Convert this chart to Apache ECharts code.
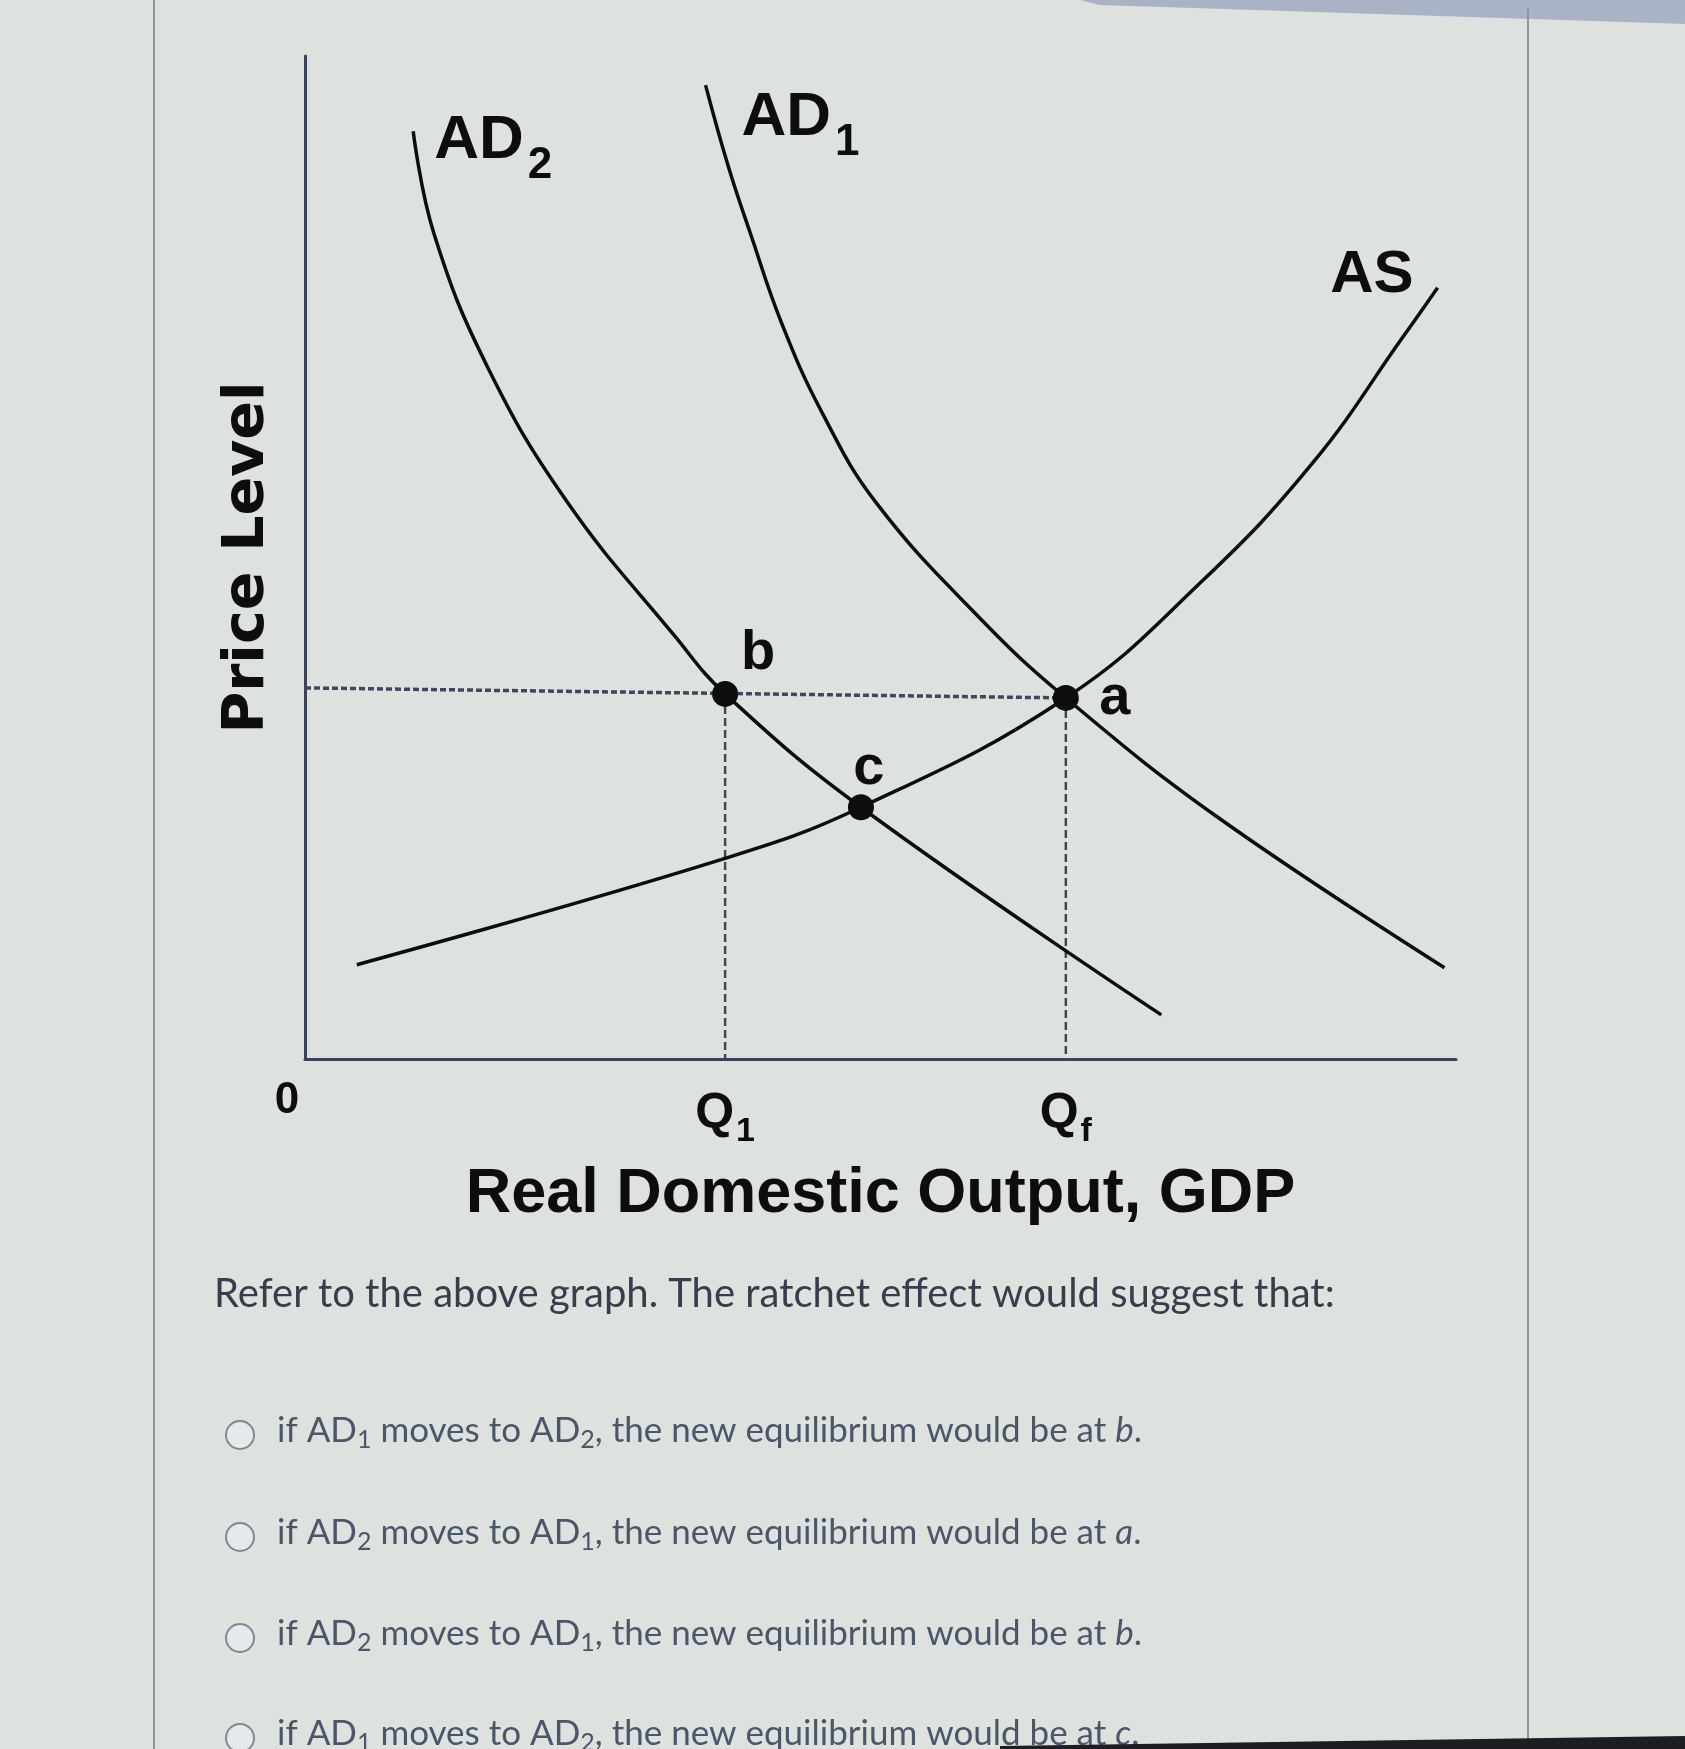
<!DOCTYPE html>
<html><head><meta charset="utf-8">
<script src="https://cdn.jsdelivr.net/npm/echarts@6/dist/echarts.min.js"></script>
<style>html,body{margin:0;padding:0;background:#dee2df;}#c{width:1685px;height:1749px;}</style>
</head><body><div id="c"></div>
<script>
// ---- data (axis units 0..100) ----
const AD2 = [[9.4,92.5],[11.2,82.3],[15.9,68.9],[22.8,55.5],[32.1,42.2],[36.5,36.4],[48.3,25.1],[74.4,4.4]];
const AD1 = [[34.8,97.1],[36.8,88.9],[38.7,82.3],[41.4,73.4],[44.9,64.5],[49.6,55.5],[58.6,44.0],[66.1,36.0],[79.3,24.1],[99.0,9.1]];
const AS  = [[4.5,9.4],[36.5,20.0],[48.3,25.1],[66.1,36.0],[77.9,47.6],[87.6,59.5],[95.4,72.0],[98.4,76.9]];
const pointNames = ['b','a','c'];
const pointValues = [[36.5,36.4],[66.1,36.0],[48.3,25.1]];
const priceGuide = [[0,37.0],[66.1,36.0]];
const q1Guide = [[36.5,36.4],[36.5,0]];
const qfGuide = [[66.1,36.0],[66.1,0]];
const xTickValues = [0, 36.5, 66.1];
const xTickLabels = ['0', 'Q1', 'Qf'];
const xAxisTitle = 'Real Domestic Output, GDP';
const yAxisTitle = 'Price Level';
const question = 'Refer to the above graph. The ratchet effect would suggest that:';
const options = [
  'if AD{s|1} moves to AD{s|2}, the new equilibrium would be at {i|b}.',
  'if AD{s|2} moves to AD{s|1}, the new equilibrium would be at {i|a}.',
  'if AD{s|2} moves to AD{s|1}, the new equilibrium would be at {i|b}.',
  'if AD{s|1} moves to AD{s|2}, the new equilibrium would be at {i|c}.'
];

const chart = echarts.init(document.getElementById('c'), null, {renderer:'canvas'});
const FONT = 'Liberation Sans, Arial, sans-serif';
const NARROW = 'Liberation Sans Narrow, Liberation Sans, Arial, sans-serif';
const INK = '#0d0d0d';
const AXIS = '#39435a';
const GUIDE = '#3c4862';

const curveRich = {
  m:{fontSize:62, fontWeight:'bold', fontFamily:NARROW, color:INK},
  n:{fontSize:60, fontWeight:'bold', fontFamily:FONT, color:INK},
  s:{fontSize:44, fontWeight:'bold', fontFamily:NARROW, color:INK, padding:[50,0,0,4]}
};

const tickFmt = {};
xTickValues.forEach((v,i)=>{tickFmt[v]=xTickLabels[i];});

const curveLabelData = [
  {value:AD2[0], label:{formatter:'{m|AD}{s|2}', align:'left', offset:[21,10]}},
  {value:AD1[0], label:{formatter:'{m|AD}{s|1}', align:'left', offset:[36,33]}},
  {value:AS[AS.length-1], label:{formatter:'{n|AS}', align:'right', offset:[-24,-12]}}
];
const pointOffsets = [[33,-40],[49,1],[8,-39]];

const optionsGraphic = [];
const optY = [1431,1533,1634,1734];
const OPT_FONT = 'Lato, sans-serif';
const OPT_COL = '#4a576b';
options.forEach((t,i)=>{
  optionsGraphic.push({type:'circle', shape:{cx:240, cy:optY[i]+4, r:14},
    style:{fill:'#e6e9ec', stroke:'#7d8796', lineWidth:2}});
  optionsGraphic.push({type:'text', x:277, y:optY[i], style:{
    text:t, fontSize:35, fontFamily:OPT_FONT, fill:OPT_COL, verticalAlign:'middle',
    rich:{
      s:{fontSize:25, fontFamily:OPT_FONT, fill:OPT_COL, padding:[18,0,0,0]},
      i:{fontSize:35, fontFamily:OPT_FONT, fontStyle:'italic', fill:OPT_COL}
    }}});
});

const curveStyle = {color:INK, width:3.5};
chart.setOption({
  backgroundColor:'#dee2df',
  animation:false,
  grid:{left:305, top:56, right:229, bottom:690, containLabel:false},
  xAxis:{
    type:'value', min:0, max:100,
    axisLine:{show:true, lineStyle:{color:AXIS, width:3}},
    axisTick:{show:false}, splitLine:{show:false},
    axisLabel:{
      customValues:xTickValues, margin:20, showMinLabel:true, showMaxLabel:true,
      formatter:function(v){
        const l = tickFmt[v];
        if(l==='0') return '{z|0}';
        return '{q|'+l[0]+'}{s|'+l.slice(1)+'}';
      },
      rich:{
        z:{fontSize:44, fontWeight:'bold', fontFamily:FONT, color:INK, padding:[0,36,0,0]},
        q:{fontSize:50, fontWeight:'bold', fontFamily:FONT, color:INK},
        s:{fontSize:34, fontWeight:'bold', fontFamily:FONT, color:INK, padding:[36,0,0,2]}
      }
    },
    name:xAxisTitle, nameLocation:'middle', nameGap:104,
    nameTextStyle:{fontSize:63, fontWeight:'bold', fontFamily:FONT, color:INK}
  },
  yAxis:{
    type:'value', min:0, max:100,
    axisLine:{show:true, lineStyle:{color:AXIS, width:3}},
    axisTick:{show:false}, splitLine:{show:false}, axisLabel:{show:false},
    name:yAxisTitle, nameLocation:'middle', nameRotate:90, nameGap:28,
    nameTextStyle:{fontSize:57, fontWeight:'bold', fontFamily:'DejaVu Sans, sans-serif', color:INK}
  },
  series:[
    {type:'line', data:priceGuide, symbol:'none', lineStyle:{color:GUIDE, width:3.5, type:[6,3]}, z:1},
    {type:'line', data:q1Guide, symbol:'none', lineStyle:{color:GUIDE, width:2.5, type:[8,4]}, z:1},
    {type:'line', data:qfGuide, symbol:'none', lineStyle:{color:GUIDE, width:2.5, type:[8,4]}, z:1},
    {type:'line', name:'AD2', data:AD2, smooth:0.42, symbol:'none', lineStyle:curveStyle, z:3},
    {type:'line', name:'AD1', data:AD1, smooth:0.42, symbol:'none', lineStyle:curveStyle, z:3},
    {type:'line', name:'AS', data:AS, smooth:0.42, symbol:'none', lineStyle:curveStyle, z:3},
    {type:'scatter', data:pointValues.map((v,i)=>({value:v, label:{formatter:pointNames[i], offset:pointOffsets[i]}})),
      symbol:'circle', symbolSize:26, itemStyle:{color:INK, opacity:1}, z:5,
      label:{show:true, position:'inside', fontSize:56, fontWeight:'bold', fontFamily:FONT, color:INK}},
    {type:'scatter', data:curveLabelData, symbolSize:0, itemStyle:{opacity:1}, z:5,
      label:{show:true, position:'inside', verticalAlign:'middle', rich:curveRich}}
  ],
  graphic:[
    {type:'polygon', shape:{points:[[1080,0],[1685,0],[1685,24],[1100,5]]}, style:{fill:'#aab3c6'}, z:-1},
    {type:'polygon', shape:{points:[[1000,1749],[1685,1749],[1685,1736],[1000,1746]]}, style:{fill:'#1c1e24'}, z:10},
    {type:'line', shape:{x1:154,y1:0,x2:154,y2:1749}, style:{stroke:'#8e96a2', lineWidth:2}, z:-1},
    {type:'line', shape:{x1:1528,y1:8,x2:1528,y2:1749}, style:{stroke:'#8e96a2', lineWidth:2}, z:-1},
    {type:'text', x:214, y:1294, style:{text:question, fontSize:40, fontFamily:'Lato, sans-serif', fill:'#353e4c', verticalAlign:'middle'}},
    ...optionsGraphic
  ]
});
</script></body></html>
